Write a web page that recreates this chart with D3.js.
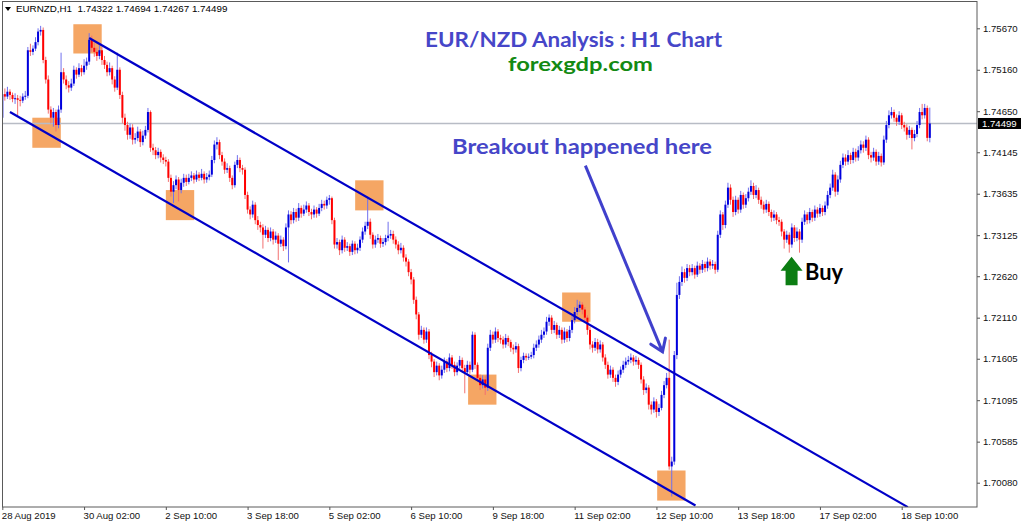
<!DOCTYPE html>
<html><head><meta charset="utf-8">
<script src="https://cdn.jsdelivr.net/npm/d3@7"></script>
<style>
html,body{margin:0;padding:0;background:#fff;overflow:hidden}
svg{display:block}
</style></head><body>
<svg id="c" width="1024" height="524"></svg>
<script>
// ---------------- data ----------------
const symbol = "EURNZD,H1";
const lastQuote = ["1.74322", "1.74694", "1.74267", "1.74499"];
const dateTickBars = [0, 32, 64, 96, 128, 160, 192, 224, 256, 288, 320, 352];
const dateLabels = ["28 Aug 2019", "30 Aug 02:00", "2 Sep 10:00", "3 Sep 18:00", "5 Sep 02:00", "6 Sep 10:00",
  "9 Sep 18:00", "11 Sep 02:00", "12 Sep 10:00", "13 Sep 18:00", "17 Sep 02:00", "18 Sep 10:00"];
const priceTicks = [1.75670, 1.75160, 1.74650, 1.74145, 1.73635, 1.73125, 1.72620, 1.72110, 1.71605, 1.71095, 1.70585, 1.70080];

const opens = [
1.7457,1.7486,1.7483,1.7489,1.7485,1.7480,1.7481,1.7479,1.7478,1.7483,
1.7484,1.7540,1.7538,1.7542,1.7550,1.7563,1.7565,1.7528,1.7504,1.7467,
1.7457,1.7464,1.7448,1.7467,1.7513,1.7504,1.7497,1.7494,1.7499,1.7516,
1.7510,1.7518,1.7513,1.7521,1.7526,1.7553,1.7543,1.7538,1.7533,1.7540,
1.7528,1.7522,1.7513,1.7518,1.7504,1.7494,1.7516,1.7485,1.7457,1.7448,
1.7436,1.7445,1.7430,1.7432,1.7440,1.7427,1.7435,1.7442,1.7464,1.7420,
1.7417,1.7411,1.7415,1.7408,1.7405,1.7403,1.7383,1.7366,1.7374,1.7381,
1.7368,1.7377,1.7383,1.7378,1.7383,1.7386,1.7381,1.7387,1.7383,1.7388,
1.7381,1.7384,1.7387,1.7405,1.7424,1.7427,1.7411,1.7403,1.7393,1.7395,
1.7383,1.7374,1.7399,1.7405,1.7395,1.7393,1.7362,1.7344,1.7338,1.7350,
1.7331,1.7325,1.7322,1.7313,1.7319,1.7309,1.7317,1.7307,1.7312,1.7302,
1.7307,1.7299,1.7322,1.7338,1.7331,1.7341,1.7334,1.7346,1.7339,1.7344,
1.7349,1.7341,1.7338,1.7344,1.7339,1.7346,1.7351,1.7349,1.7356,1.7358,
1.7331,1.7301,1.7304,1.7294,1.7307,1.7297,1.7299,1.7292,1.7302,1.7294,
1.7297,1.7307,1.7317,1.7324,1.7329,1.7313,1.7301,1.7307,1.7309,1.7302,
1.7304,1.7309,1.7312,1.7314,1.7307,1.7301,1.7294,1.7297,1.7285,1.7280,
1.7267,1.7258,1.7233,1.7215,1.7190,1.7196,1.7184,1.7194,1.7165,1.7157,
1.7144,1.7152,1.7140,1.7147,1.7157,1.7149,1.7162,1.7153,1.7144,1.7152,
1.7159,1.7149,1.7144,1.7153,1.7147,1.7190,1.7153,1.7137,1.7128,1.7135,
1.7125,1.7174,1.7190,1.7184,1.7194,1.7186,1.7184,1.7178,1.7186,1.7181,
1.7174,1.7172,1.7176,1.7149,1.7159,1.7164,1.7162,1.7163,1.7165,1.7174,
1.7178,1.7184,1.7190,1.7194,1.7206,1.7211,1.7196,1.7202,1.7190,1.7196,
1.7184,1.7194,1.7186,1.7196,1.7208,1.7218,1.7223,1.7227,1.7221,1.7211,
1.7196,1.7178,1.7174,1.7181,1.7172,1.7178,1.7162,1.7153,1.7141,1.7147,
1.7137,1.7132,1.7141,1.7147,1.7153,1.7157,1.7159,1.7162,1.7157,1.7159,
1.7153,1.7135,1.7122,1.7125,1.7104,1.7098,1.7108,1.7095,1.7100,1.7116,
1.7128,1.7137,1.7028,1.7034,1.7165,1.7239,1.7255,1.7267,1.7260,1.7272,
1.7267,1.7272,1.7264,1.7275,1.7270,1.7277,1.7272,1.7280,1.7275,1.7277,
1.7270,1.7313,1.7338,1.7325,1.7350,1.7371,1.7356,1.7341,1.7356,1.7344,
1.7362,1.7350,1.7358,1.7366,1.7373,1.7362,1.7368,1.7356,1.7350,1.7344,
1.7351,1.7341,1.7334,1.7338,1.7331,1.7329,1.7317,1.7307,1.7313,1.7301,
1.7322,1.7309,1.7317,1.7307,1.7329,1.7338,1.7331,1.7341,1.7334,1.7344,
1.7339,1.7346,1.7341,1.7349,1.7362,1.7371,1.7387,1.7366,1.7381,1.7399,
1.7408,1.7403,1.7411,1.7405,1.7415,1.7408,1.7417,1.7424,1.7420,1.7430,
1.7411,1.7408,1.7415,1.7403,1.7410,1.7402,1.7430,1.7448,1.7460,1.7464,
1.7457,1.7452,1.7460,1.7448,1.7445,1.7436,1.7442,1.7432,1.7437,1.7448,
1.7464,1.7460,1.7469,1.74322];

const highs = [
1.7490,1.7493,1.7495,1.7492,1.7488,1.7487,1.7485,1.7484,1.7487,1.7490,
1.7544,1.7548,1.7546,1.7556,1.7567,1.7570,1.7568,1.7532,1.7509,1.7471,
1.7469,1.7467,1.7472,1.7537,1.7518,1.7509,1.7502,1.7505,1.7521,1.7519,
1.7524,1.7522,1.7529,1.7531,1.7561,1.7558,1.7549,1.7543,1.7546,1.7544,
1.7533,1.7526,1.7525,1.7521,1.7508,1.7537,1.7519,1.7489,1.7462,1.7452,
1.7450,1.7449,1.7438,1.7446,1.7443,1.7441,1.7447,1.7469,1.7466,1.7425,
1.7421,1.7420,1.7418,1.7412,1.7409,1.7406,1.7387,1.7379,1.7386,1.7384,
1.7382,1.7388,1.7387,1.7388,1.7391,1.7389,1.7392,1.7390,1.7394,1.7391,
1.7389,1.7392,1.7410,1.7429,1.7433,1.7430,1.7415,1.7407,1.7401,1.7398,
1.7386,1.7403,1.7411,1.7408,1.7399,1.7396,1.7366,1.7348,1.7355,1.7353,
1.7336,1.7329,1.7326,1.7324,1.7322,1.7322,1.7320,1.7317,1.7315,1.7312,
1.7310,1.7327,1.7343,1.7342,1.7346,1.7345,1.7352,1.7349,1.7350,1.7354,
1.7352,1.7345,1.7349,1.7347,1.7351,1.7356,1.7355,1.7360,1.7362,1.7360,
1.7334,1.7309,1.7307,1.7312,1.7310,1.7304,1.7302,1.7306,1.7305,1.7302,
1.7311,1.7322,1.7329,1.7360,1.7333,1.7316,1.7312,1.7314,1.7312,1.7309,
1.7313,1.7329,1.7319,1.7318,1.7311,1.7305,1.7303,1.7300,1.7289,1.7283,
1.7271,1.7261,1.7237,1.7218,1.7201,1.7199,1.7199,1.7197,1.7169,1.7160,
1.7157,1.7155,1.7152,1.7162,1.7160,1.7167,1.7165,1.7157,1.7156,1.7164,
1.7162,1.7153,1.7158,1.7157,1.7194,1.7193,1.7156,1.7141,1.7140,1.7139,
1.7179,1.7196,1.7194,1.7199,1.7197,1.7190,1.7188,1.7191,1.7189,1.7184,
1.7178,1.7181,1.7179,1.7163,1.7168,1.7167,1.7167,1.7169,1.7179,1.7183,
1.7189,1.7196,1.7199,1.7212,1.7215,1.7214,1.7207,1.7205,1.7201,1.7199,
1.7199,1.7197,1.7201,1.7213,1.7224,1.7233,1.7231,1.7230,1.7224,1.7214,
1.7200,1.7182,1.7186,1.7185,1.7183,1.7181,1.7166,1.7157,1.7152,1.7150,
1.7141,1.7146,1.7151,1.7158,1.7162,1.7164,1.7167,1.7165,1.7164,1.7162,
1.7156,1.7139,1.7130,1.7128,1.7108,1.7113,1.7111,1.7105,1.7121,1.7133,
1.7143,1.7184,1.7040,1.7170,1.7254,1.7262,1.7274,1.7271,1.7277,1.7276,
1.7277,1.7275,1.7280,1.7278,1.7282,1.7280,1.7285,1.7283,1.7282,1.7280,
1.7318,1.7343,1.7341,1.7355,1.7377,1.7375,1.7360,1.7361,1.7359,1.7367,
1.7365,1.7363,1.7371,1.7380,1.7377,1.7374,1.7371,1.7360,1.7354,1.7356,
1.7354,1.7344,1.7343,1.7341,1.7335,1.7332,1.7320,1.7318,1.7316,1.7327,
1.7325,1.7322,1.7320,1.7334,1.7343,1.7341,1.7346,1.7344,1.7349,1.7347,
1.7351,1.7349,1.7354,1.7367,1.7376,1.7393,1.7390,1.7386,1.7404,1.7413,
1.7412,1.7417,1.7414,1.7420,1.7419,1.7422,1.7429,1.7428,1.7435,1.7433,
1.7415,1.7420,1.7418,1.7415,1.7413,1.7435,1.7453,1.7466,1.7470,1.7467,
1.7461,1.7465,1.7463,1.7452,1.7449,1.7447,1.7445,1.7442,1.7453,1.7469,
1.7474,1.7474,1.7472,1.74694];

const lows = [
1.7452,1.7478,1.7480,1.7479,1.7476,1.7474,1.7460,1.7471,1.7475,1.7479,
1.7481,1.7533,1.7534,1.7539,1.7546,1.7558,1.7524,1.7499,1.7462,1.7450,
1.7446,1.7440,1.7444,1.7463,1.7499,1.7492,1.7488,1.7490,1.7496,1.7505,
1.7507,1.7508,1.7510,1.7516,1.7522,1.7538,1.7532,1.7527,1.7529,1.7522,
1.7517,1.7508,1.7509,1.7498,1.7489,1.7491,1.7480,1.7450,1.7441,1.7430,
1.7431,1.7424,1.7425,1.7428,1.7421,1.7423,1.7431,1.7439,1.7415,1.7411,
1.7406,1.7407,1.7402,1.7400,1.7397,1.7378,1.7360,1.7352,1.7369,1.7354,
1.7364,1.7372,1.7373,1.7375,1.7379,1.7376,1.7378,1.7379,1.7380,1.7376,
1.7377,1.7380,1.7384,1.7401,1.7418,1.7406,1.7398,1.7388,1.7389,1.7378,
1.7369,1.7371,1.7395,1.7390,1.7387,1.7357,1.7339,1.7332,1.7334,1.7326,
1.7319,1.7316,1.7296,1.7309,1.7304,1.7305,1.7301,1.7303,1.7282,1.7298,
1.7293,1.7295,1.7279,1.7326,1.7327,1.7329,1.7330,1.7334,1.7336,1.7340,
1.7336,1.7332,1.7334,1.7334,1.7336,1.7342,1.7344,1.7345,1.7350,1.7326,
1.7296,1.7296,1.7288,1.7290,1.7292,1.7293,1.7287,1.7288,1.7289,1.7290,
1.7293,1.7303,1.7313,1.7320,1.7308,1.7296,1.7297,1.7303,1.7297,1.7298,
1.7300,1.7305,1.7308,1.7302,1.7296,1.7289,1.7290,1.7280,1.7274,1.7262,
1.7252,1.7228,1.7209,1.7184,1.7186,1.7179,1.7180,1.7160,1.7150,1.7138,
1.7140,1.7134,1.7136,1.7143,1.7144,1.7145,1.7148,1.7139,1.7140,1.7148,
1.7144,1.7118,1.7140,1.7142,1.7144,1.7148,1.7132,1.7122,1.7124,1.7116,
1.7121,1.7170,1.7179,1.7180,1.7181,1.7179,1.7173,1.7174,1.7176,1.7169,
1.7166,1.7168,1.7143,1.7145,1.7155,1.7158,1.7159,1.7160,1.7161,1.7170,
1.7174,1.7180,1.7186,1.7190,1.7201,1.7191,1.7192,1.7185,1.7186,1.7179,
1.7180,1.7181,1.7182,1.7192,1.7204,1.7214,1.7218,1.7215,1.7206,1.7190,
1.7172,1.7168,1.7170,1.7167,1.7168,1.7157,1.7148,1.7136,1.7137,1.7132,
1.7126,1.7128,1.7137,1.7143,1.7149,1.7153,1.7155,1.7152,1.7153,1.7148,
1.7130,1.7116,1.7118,1.7098,1.7092,1.7094,1.7088,1.7090,1.7097,1.7112,
1.7124,1.7024,1.6991,1.7030,1.7160,1.7234,1.7250,1.7254,1.7256,1.7262,
1.7263,1.7259,1.7261,1.7265,1.7266,1.7267,1.7268,1.7270,1.7271,1.7265,
1.7267,1.7309,1.7319,1.7321,1.7346,1.7350,1.7335,1.7337,1.7339,1.7340,
1.7345,1.7346,1.7354,1.7362,1.7357,1.7358,1.7351,1.7345,1.7339,1.7340,
1.7336,1.7329,1.7330,1.7326,1.7324,1.7311,1.7296,1.7303,1.7291,1.7297,
1.7304,1.7305,1.7291,1.7303,1.7325,1.7326,1.7327,1.7329,1.7330,1.7334,
1.7335,1.7336,1.7337,1.7345,1.7358,1.7367,1.7360,1.7362,1.7377,1.7395,
1.7398,1.7399,1.7400,1.7401,1.7403,1.7404,1.7413,1.7414,1.7416,1.7406,
1.7402,1.7404,1.7398,1.7399,1.7397,1.7399,1.7426,1.7444,1.7456,1.7452,
1.7447,1.7448,1.7443,1.7440,1.7430,1.7432,1.7418,1.7428,1.7433,1.7444,
1.7455,1.7456,1.7428,1.74267];

const closes = [
1.7486,1.7483,1.7489,1.7485,1.7480,1.7481,1.7479,1.7478,1.7483,1.7484,
1.7540,1.7538,1.7542,1.7550,1.7563,1.7565,1.7528,1.7504,1.7467,1.7457,
1.7464,1.7448,1.7467,1.7513,1.7504,1.7497,1.7494,1.7499,1.7516,1.7510,
1.7518,1.7513,1.7521,1.7526,1.7553,1.7543,1.7538,1.7533,1.7540,1.7528,
1.7522,1.7513,1.7518,1.7504,1.7494,1.7516,1.7485,1.7457,1.7448,1.7436,
1.7445,1.7430,1.7432,1.7440,1.7427,1.7435,1.7442,1.7464,1.7420,1.7417,
1.7411,1.7415,1.7408,1.7405,1.7403,1.7383,1.7366,1.7374,1.7381,1.7368,
1.7377,1.7383,1.7378,1.7383,1.7386,1.7381,1.7387,1.7383,1.7388,1.7381,
1.7384,1.7387,1.7405,1.7424,1.7427,1.7411,1.7403,1.7393,1.7395,1.7383,
1.7374,1.7399,1.7405,1.7395,1.7393,1.7362,1.7344,1.7338,1.7350,1.7331,
1.7325,1.7322,1.7313,1.7319,1.7309,1.7317,1.7307,1.7312,1.7302,1.7307,
1.7299,1.7322,1.7338,1.7331,1.7341,1.7334,1.7346,1.7339,1.7344,1.7349,
1.7341,1.7338,1.7344,1.7339,1.7346,1.7351,1.7349,1.7356,1.7358,1.7331,
1.7301,1.7304,1.7294,1.7307,1.7297,1.7299,1.7292,1.7302,1.7294,1.7297,
1.7307,1.7317,1.7324,1.7329,1.7313,1.7301,1.7307,1.7309,1.7302,1.7304,
1.7309,1.7312,1.7314,1.7307,1.7301,1.7294,1.7297,1.7285,1.7280,1.7267,
1.7258,1.7233,1.7215,1.7190,1.7196,1.7184,1.7194,1.7165,1.7157,1.7144,
1.7152,1.7140,1.7147,1.7157,1.7149,1.7162,1.7153,1.7144,1.7152,1.7159,
1.7149,1.7144,1.7153,1.7147,1.7190,1.7153,1.7137,1.7128,1.7135,1.7125,
1.7174,1.7190,1.7184,1.7194,1.7186,1.7184,1.7178,1.7186,1.7181,1.7174,
1.7172,1.7176,1.7149,1.7159,1.7164,1.7162,1.7163,1.7165,1.7174,1.7178,
1.7184,1.7190,1.7194,1.7206,1.7211,1.7196,1.7202,1.7190,1.7196,1.7184,
1.7194,1.7186,1.7196,1.7208,1.7218,1.7223,1.7227,1.7221,1.7211,1.7196,
1.7178,1.7174,1.7181,1.7172,1.7178,1.7162,1.7153,1.7141,1.7147,1.7137,
1.7132,1.7141,1.7147,1.7153,1.7157,1.7159,1.7162,1.7157,1.7159,1.7153,
1.7135,1.7122,1.7125,1.7104,1.7098,1.7108,1.7095,1.7100,1.7116,1.7128,
1.7137,1.7028,1.7034,1.7165,1.7239,1.7255,1.7267,1.7260,1.7272,1.7267,
1.7272,1.7264,1.7275,1.7270,1.7277,1.7272,1.7280,1.7275,1.7277,1.7270,
1.7313,1.7338,1.7325,1.7350,1.7371,1.7356,1.7341,1.7356,1.7344,1.7362,
1.7350,1.7358,1.7366,1.7373,1.7362,1.7368,1.7356,1.7350,1.7344,1.7351,
1.7341,1.7334,1.7338,1.7331,1.7329,1.7317,1.7307,1.7313,1.7301,1.7322,
1.7309,1.7317,1.7307,1.7329,1.7338,1.7331,1.7341,1.7334,1.7344,1.7339,
1.7346,1.7341,1.7349,1.7362,1.7371,1.7387,1.7366,1.7381,1.7399,1.7408,
1.7403,1.7411,1.7405,1.7415,1.7408,1.7417,1.7424,1.7420,1.7430,1.7411,
1.7408,1.7415,1.7403,1.7410,1.7402,1.7430,1.7448,1.7460,1.7464,1.7457,
1.7452,1.7460,1.7448,1.7445,1.7436,1.7442,1.7432,1.7437,1.7448,1.7464,
1.7460,1.7469,1.74322,1.74499];

// annotations in data coordinates: [bar index, price]
const upperChannel = [[34, 1.7555], [354.4, 1.6978]];
const lowerChannel = [[3, 1.7464], [271.3, 1.6980]];
// touch boxes: [barFrom, barTo, priceTop, priceBottom]
const touchBoxes = [
  [27.8, 38.9, 1.7572, 1.7536],
  [11.75, 22.9, 1.7457, 1.7420],
  [64.0, 75.1, 1.7368, 1.7331],
  [138.1, 149.2, 1.7380, 1.7343],
  [182.3, 193.4, 1.7141, 1.7104],
  [219.1, 230.2, 1.7242, 1.7206],
  [256.3, 267.4, 1.7023, 1.6986]
];
const breakoutArrow = [[228.2, 1.7398], [258.4, 1.7169]];
const buyArrow = [308.9, 1.7286, 1.7251]; // bar, top price, bottom price

// ---------------- drawing ----------------
const W = 1024, H = 524;
const plot = {l: 2, t: 2, r: 977, b: 507};
const x = d3.scaleLinear().domain([0, 352]).range([2.3, 901.7]);
const y = d3.scaleLinear().domain([1.70080, 1.75670]).range([482.7, 28.3]);
const lastClose = closes[closes.length - 1];

const svg = d3.select("#c");
svg.append("rect").attr("width", W).attr("height", H).attr("fill", "#fff");
svg.append("defs").append("clipPath").attr("id", "clip").append("rect")
  .attr("x", plot.l).attr("y", plot.t).attr("width", plot.r - plot.l).attr("height", plot.b - plot.t);
const g = svg.append("g").attr("clip-path", "url(#clip)");

// touch boxes
g.append("g").selectAll("rect").data(touchBoxes).join("rect")
  .attr("x", d => x(d[0])).attr("width", d => x(d[1]) - x(d[0]))
  .attr("y", d => y(d[2])).attr("height", d => y(d[3]) - y(d[2]))
  .attr("fill", "#f4a15c").attr("fill-opacity", 0.95);

// current price line
g.append("line").attr("x1", plot.l).attr("x2", plot.r)
  .attr("y1", y(lastClose)).attr("y2", y(lastClose))
  .attr("stroke", "#b8bcc5").attr("stroke-width", 1.4);

// candles
const bars = d3.range(closes.length).map(i => ({i, o: opens[i], h: highs[i], l: lows[i], c: closes[i]}));
const cg = g.append("g");
cg.selectAll("line").data(bars).join("line")
  .attr("x1", d => x(d.i)).attr("x2", d => x(d.i))
  .attr("y1", d => y(d.h)).attr("y2", d => y(d.l))
  .attr("stroke", d => d.c >= d.o ? "#7070ee" : "#f27070").attr("stroke-width", 1);
cg.selectAll("rect").data(bars).join("rect")
  .attr("x", d => x(d.i) - 1).attr("width", 2)
  .attr("y", d => y(Math.max(d.o, d.c)))
  .attr("height", d => Math.max(1, Math.abs(y(d.o) - y(d.c))))
  .attr("fill", d => d.c >= d.o ? "#0000dd" : "#ff0000");

// channel lines
const line = d3.line().x(d => x(d[0])).y(d => y(d[1]));
g.append("path").attr("d", line(upperChannel)).attr("fill", "none").attr("stroke", "#0000c8").attr("stroke-width", 2.2);
g.append("path").attr("d", line(lowerChannel)).attr("fill", "none").attr("stroke", "#0000c8").attr("stroke-width", 2.2);

// breakout arrow
const a0 = [x(breakoutArrow[0][0]), y(breakoutArrow[0][1])];
const a1 = [x(breakoutArrow[1][0]), y(breakoutArrow[1][1])];
const ang = Math.atan2(a1[1] - a0[1], a1[0] - a0[0]);
const hl = 14;
const h1 = [a1[0] - hl * Math.cos(ang - 0.6), a1[1] - hl * Math.sin(ang - 0.6)];
const h2 = [a1[0] - hl * Math.cos(ang + 0.6), a1[1] - hl * Math.sin(ang + 0.6)];
const arrowColor = "#4040cc";
g.append("path").attr("d", d3.line()([a0, a1])).attr("stroke", arrowColor).attr("stroke-width", 3).attr("fill", "none");
g.append("path").attr("d", d3.line()([h1, a1, h2])).attr("stroke", arrowColor).attr("stroke-width", 3)
  .attr("fill", "none").attr("stroke-linejoin", "miter").attr("stroke-linecap", "round");

// buy arrow
const bx = x(buyArrow[0]), bt = y(buyArrow[1]), bb = y(buyArrow[2]);
const hh = 14;
g.append("path").attr("fill", "#0b7d12")
  .attr("d", d3.line()([[bx, bt], [bx + 11, bt + hh], [bx + 6, bt + hh], [bx + 6, bb], [bx - 6, bb],
    [bx - 6, bt + hh], [bx - 11, bt + hh]]) + "Z");

// border
svg.append("rect").attr("x", plot.l + 0.5).attr("y", plot.t - 0.5).attr("width", plot.r - plot.l - 0.5)
  .attr("height", plot.b - plot.t + 0.5).attr("fill", "none").attr("stroke", "#5a5a5a").attr("stroke-width", 1);

// axes
const axisFont = "'Liberation Sans', Arial, sans-serif";
const ya = d3.axisRight(y).tickValues(priceTicks).tickFormat(d3.format(".5f")).tickSize(3).tickPadding(3);
const yg = svg.append("g").attr("transform", `translate(${plot.r},0)`).call(ya);
yg.select(".domain").remove();
yg.selectAll("line").attr("stroke", "#555");
yg.selectAll("text").attr("font-family", axisFont).attr("font-size", 9.6).attr("fill", "#111");

const xa = d3.axisBottom(x).tickValues(dateTickBars).tickFormat((d, i) => dateLabels[i]).tickSize(3).tickPadding(2);
const xg = svg.append("g").attr("transform", `translate(0,${plot.b})`).call(xa);
xg.select(".domain").remove();
xg.selectAll("line").attr("stroke", "#555");
xg.selectAll("text").attr("text-anchor", "start").attr("dx", -1)
  .attr("font-family", axisFont).attr("font-size", 9.6).attr("fill", "#111");

// current price label
const ly = y(lastClose);
svg.append("rect").attr("x", 978).attr("y", ly - 5.5).attr("width", 43).attr("height", 11).attr("fill", "#000");
svg.append("text").attr("x", 982).attr("y", ly + 3.5).text(lastQuote[3])
  .attr("font-family", axisFont).attr("font-size", 9.6).attr("fill", "#fff");

// header
svg.append("path").attr("d", "M5,7 L11,7 L8,11 Z").attr("fill", "#000");
svg.append("text").attr("x", 16).attr("y", 12).attr("xml:space", "preserve")
  .text(symbol + "  " + lastQuote.join(" "))
  .attr("font-family", axisFont).attr("font-size", 9.8).attr("fill", "#000");

// annotation texts
const annFont = "Lato, 'Open Sans', sans-serif";
svg.append("text").attr("x", 425).attr("y", 47).text("EUR/NZD Analysis : H1 Chart")
  .attr("font-family", annFont).attr("font-weight", 700).attr("font-size", 20).attr("fill", "#4646c8")
  .attr("textLength", 297).attr("lengthAdjust", "spacingAndGlyphs");
svg.append("text").attr("x", 508).attr("y", 70.5).text("forexgdp.com")
  .attr("font-family", annFont).attr("font-weight", 700).attr("font-size", 19.5).attr("fill", "#138a13")
  .attr("textLength", 145).attr("lengthAdjust", "spacingAndGlyphs");
svg.append("text").attr("x", 452).attr("y", 154).text("Breakout happened here")
  .attr("font-family", annFont).attr("font-weight", 700).attr("font-size", 21).attr("fill", "#4646c8")
  .attr("textLength", 260).attr("lengthAdjust", "spacingAndGlyphs");
svg.append("text").attr("x", 805).attr("y", 280).text("Buy")
  .attr("font-family", annFont).attr("font-weight", 700).attr("font-size", 22).attr("fill", "#000")
  .attr("textLength", 38).attr("lengthAdjust", "spacingAndGlyphs");
</script>
</body></html>
